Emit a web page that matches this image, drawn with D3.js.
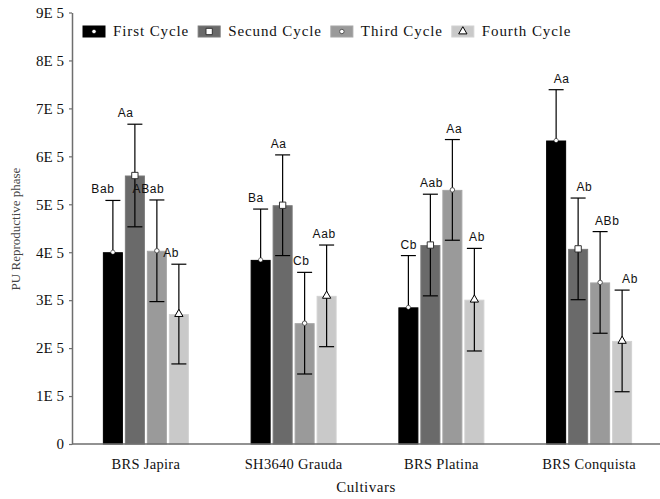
<!DOCTYPE html>
<html>
<head>
<meta charset="utf-8">
<script src="https://cdn.jsdelivr.net/npm/d3@7/dist/d3.min.js"></script>
<style>
  html, body { margin: 0; padding: 0; background: #fff; }
  svg { display: block; }
</style>
</head>
<body>
<svg id="chart" width="660" height="499"></svg>
<script>
// Cultivars on the x axis and the four growing cycles
const cultivars = ["BRS Japira", "SH3640 Grauda", "BRS Platina", "BRS Conquista"];
const cycles = ["First Cycle", "Secund Cycle", "Third Cycle", "Fourth Cycle"];

// Mean PU in the reproductive phase, per cycle (one value per cultivar)
const firstCycle  = [4.00e5, 3.84e5, 2.85e5, 6.33e5];
const secondCycle = [5.60e5, 4.98e5, 4.15e5, 4.07e5];
const thirdCycle  = [4.03e5, 2.52e5, 5.30e5, 3.37e5];
const fourthCycle = [2.71e5, 3.09e5, 3.01e5, 2.15e5];

// Error bar half-lengths
const firstErr  = [1.08e5, 1.06e5, 1.08e5, 1.06e5];
const secondErr = [1.07e5, 1.05e5, 1.06e5, 1.06e5];
const thirdErr  = [1.06e5, 1.06e5, 1.05e5, 1.06e5];
const fourthErr = [1.04e5, 1.06e5, 1.07e5, 1.06e5];

// Mean comparison letters
const firstLetters  = ["Bab", "Ba", "Cb", "Aa"];
const secondLetters = ["Aa", "Aa", "Aab", "Ab"];
const thirdLetters  = ["ABab", "Cb", "Aa", "ABb"];
const fourthLetters = ["Ab", "Aab", "Ab", "Ab"];

// Y axis ticks
const yTicks = [0, 1e5, 2e5, 3e5, 4e5, 5e5, 6e5, 7e5, 8e5, 9e5];
const yTickLabels = ["0", "1E 5", "2E 5", "3E 5", "4E 5", "5E 5", "6E 5", "7E 5", "8E 5", "9E 5"];

const values = [firstCycle, secondCycle, thirdCycle, fourthCycle];
const errors = [firstErr, secondErr, thirdErr, fourthErr];
const letters = [firstLetters, secondLetters, thirdLetters, fourthLetters];

const fills = ["#000000", "#6a6a6a", "#9a9a9a", "#c9c9c9"];
const strokes = ["#000000", "#7a7a7a", "#a6a6a6", "#d2d2d2"];
const markerTypes = [d3.symbolCircle, d3.symbolSquare, d3.symbolCircle, d3.symbolTriangle];
const markerSizes = [14, 40, 16, 30];
const markerStrokes = ["#000", "#333", "#555", "#000"];

const rows = [];
cultivars.forEach((c, ci) => {
  cycles.forEach((k, ki) => {
    rows.push({ cultivar: c, cycle: k, ki, value: values[ki][ci], err: errors[ki][ci], letter: letters[ki][ci] });
  });
});

const svg = d3.select("#chart");
const serif = "'Liberation Serif', 'Times New Roman', Times, serif";
const sans = "'Liberation Sans', Arial, Helvetica, sans-serif";

const plotLeft = 72, plotRight = 660, plotBottom = 444, plotTop = 12.5;

const x0 = d3.scaleBand().domain(cultivars).range([plotLeft, 663]);
const groupWidth = 86;
const x1 = d3.scaleBand().domain(cycles).range([0, groupWidth]).paddingInner(0.09);
const groupOffset = (x0.bandwidth() - groupWidth) / 2;
const y = d3.scaleLinear().domain([0, 9e5]).range([plotBottom, plotTop]);
// letters sit on a slightly wider spread than the bars
const labelX = d3.scaleLinear().domain([plotLeft, plotRight]).range([60.6, 669.2]);

const barX = d => x0(d.cultivar) + groupOffset + x1(d.cycle);
const barCx = d => barX(d) + x1.bandwidth() / 2;

// Bars
svg.append("g").selectAll("rect").data(rows).join("rect")
  .attr("x", d => barX(d) + 0.5)
  .attr("y", d => y(d.value) + 0.5)
  .attr("width", x1.bandwidth() - 1)
  .attr("height", d => y(0) - y(d.value) - 0.5)
  .attr("fill", d => fills[d.ki])
  .attr("stroke", d => strokes[d.ki])
  .attr("stroke-width", 1);

// Error bars
const capHalf = 7.5;
const eb = svg.append("g").attr("stroke", "#000").attr("stroke-width", 1.2).attr("fill", "none");
eb.selectAll("line.v").data(rows).join("line").attr("class", "v")
  .attr("x1", barCx).attr("x2", barCx)
  .attr("y1", d => y(d.value + d.err)).attr("y2", d => y(d.value - d.err));
eb.selectAll("line.t").data(rows).join("line").attr("class", "t")
  .attr("x1", d => barCx(d) - capHalf).attr("x2", d => barCx(d) + capHalf)
  .attr("y1", d => y(d.value + d.err)).attr("y2", d => y(d.value + d.err));
eb.selectAll("line.b").data(rows).join("line").attr("class", "b")
  .attr("x1", d => barCx(d) - capHalf).attr("x2", d => barCx(d) + capHalf)
  .attr("y1", d => y(d.value - d.err)).attr("y2", d => y(d.value - d.err));

// Markers on each mean
svg.append("g").selectAll("path").data(rows).join("path")
  .attr("transform", d => `translate(${barCx(d)},${y(d.value)})`)
  .attr("d", d => d3.symbol(markerTypes[d.ki], markerSizes[d.ki])())
  .attr("fill", "#fff")
  .attr("stroke", d => markerStrokes[d.ki])
  .attr("stroke-width", d => d.ki === 0 ? 0.5 : 1);

// Letters
svg.append("g").selectAll("text").data(rows).join("text")
  .attr("x", d => labelX(barCx(d)))
  .attr("y", d => y(d.value + d.err) - 7)
  .attr("text-anchor", "middle")
  .attr("font-family", sans)
  .attr("font-size", 12)
  .attr("letter-spacing", "0.6px")
  .attr("fill", "#111")
  .text(d => d.letter);

// Y axis
const yAxis = svg.append("g")
  .attr("transform", `translate(${plotLeft},0)`)
  .call(d3.axisLeft(y).tickValues(yTicks).tickFormat((d, i) => yTickLabels[i]).tickSize(3).tickSizeOuter(0).tickPadding(5));
yAxis.select(".domain").attr("stroke", "#6e6e6e").attr("stroke-width", 1.5);
yAxis.selectAll(".tick line").attr("stroke", "#6e6e6e").attr("stroke-width", 1.2);
yAxis.selectAll(".tick text").attr("font-family", serif).attr("font-size", 15).attr("fill", "#111");

// X axis baseline and cultivar names
svg.append("line")
  .attr("x1", plotLeft).attr("x2", plotRight)
  .attr("y1", y(0)).attr("y2", y(0))
  .attr("stroke", "#6e6e6e").attr("stroke-width", 1.5);
svg.append("g").selectAll("text").data(cultivars).join("text")
  .attr("x", d => x0(d) + x0.bandwidth() / 2)
  .attr("y", 469)
  .attr("text-anchor", "middle")
  .attr("font-family", serif).attr("font-size", 14.5)
  .attr("letter-spacing", "0.3px")
  .attr("fill", "#111")
  .text(d => d);

// Axis titles
svg.append("text")
  .attr("x", (plotLeft + plotRight) / 2).attr("y", 492)
  .attr("text-anchor", "middle")
  .attr("font-family", serif).attr("font-size", 15)
  .attr("letter-spacing", "0.5px")
  .attr("fill", "#111")
  .text("Cultivars");
svg.append("text")
  .attr("transform", "translate(20,229) rotate(-90)")
  .attr("text-anchor", "middle")
  .attr("font-family", serif).attr("font-size", 13)
  .attr("fill", "#444")
  .text("PU Reproductive phase");

// Legend
const legend = svg.append("g");
let lx = 83;
cycles.forEach((k, ki) => {
  legend.append("rect")
    .attr("x", lx).attr("y", 26).attr("width", 22).attr("height", 11)
    .attr("fill", fills[ki]).attr("stroke", strokes[ki]);
  legend.append("path")
    .attr("transform", `translate(${lx + 11},${31.5})`)
    .attr("d", d3.symbol(markerTypes[ki], markerSizes[ki])())
    .attr("fill", "#fff")
    .attr("stroke", markerStrokes[ki])
    .attr("stroke-width", ki === 0 ? 0.5 : 1);
  const t = legend.append("text")
    .attr("x", lx + 30).attr("y", 36)
    .attr("font-family", serif).attr("font-size", 15)
    .attr("letter-spacing", "0.9px")
    .attr("fill", "#111")
    .text(k);
  lx += 30 + t.node().getComputedTextLength() + 9;
});
</script>
</body>
</html>
